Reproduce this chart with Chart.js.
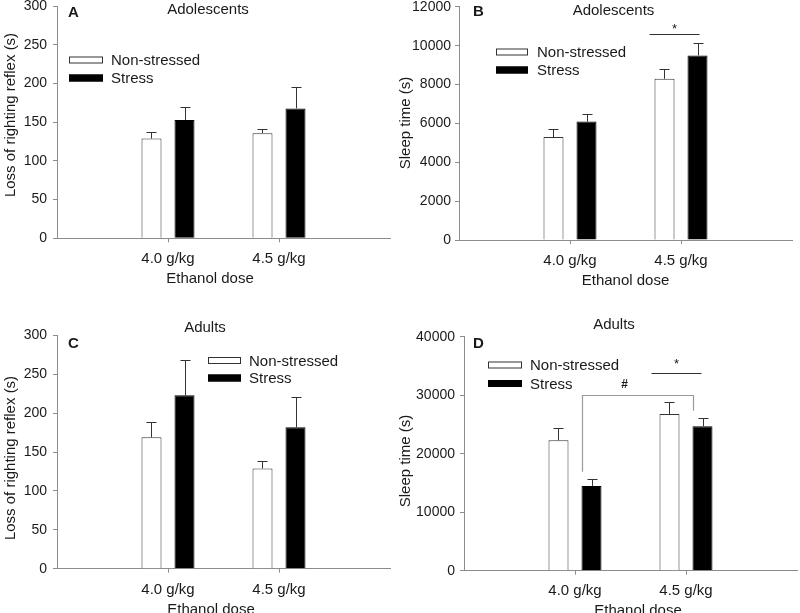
<!DOCTYPE html>
<html><head><meta charset="utf-8">
<script src="https://cdn.jsdelivr.net/npm/chart.js@4.4.1/dist/chart.umd.min.js"></script>
<style>
html,body{margin:0;padding:0;background:#fff;overflow:hidden}
#wrap{position:relative;width:800px;height:613px;overflow:hidden}
#wrap canvas{position:absolute}
</style></head>
<body><div id="wrap">
<canvas id="cA"></canvas><canvas id="cB"></canvas><canvas id="cC"></canvas><canvas id="cD"></canvas>
</div>
<script>
// ---------- data ----------
const doseLabels = ['4.0 g/kg', '4.5 g/kg'];
const groupNames = ['Non-stressed', 'Stress'];
const lorrTicks = [0, 50, 100, 150, 200, 250, 300];
const adolSleepTicks = [0, 2000, 4000, 6000, 8000, 10000, 12000];
const adultSleepTicks = [0, 10000, 20000, 30000, 40000];

const adolLORR_NS = [129, 136];
const adolLORR_NS_err = [9, 5];
const adolLORR_S = [153, 168];
const adolLORR_S_err = [17, 28];

const adolSleep_NS = [5300, 8300];
const adolSleep_NS_err = [440, 500];
const adolSleep_S = [6100, 9500];
const adolSleep_S_err = [380, 620];

const adultLORR_NS = [169, 129];
const adultLORR_NS_err = [20, 9];
const adultLORR_S = [223, 182];
const adultLORR_S_err = [45, 39];

const adultSleep_NS = [22300, 26800];
const adultSleep_NS_err = [2100, 2050];
const adultSleep_S = [14500, 24700];
const adultSleep_S_err = [1250, 1370];

// ---------- style ----------
const FONT = "'Liberation Sans', Arial, Helvetica, sans-serif";
const TEXT = '#1a1a1a';
const AXIS = '#8c8c8c';
const BAR_EDGE = '#333333';
Chart.defaults.font.family = FONT;
Chart.defaults.color = TEXT;

const decor = {
  id: 'decor',
  afterDatasetsDraw(chart, args, o) {
    const ctx = chart.ctx;
    const ys = chart.scales.y;
    const cx = o.cx, cy = o.cy;
    ctx.save();
    // error bars
    chart.data.datasets.forEach((ds, i) => {
      const meta = chart.getDatasetMeta(i);
      meta.data.forEach((el, j) => {
        const v = ds.data[j], e = ds.err[j];
        if (v == null || e == null) return;
        const yt = Math.round(ys.getPixelForValue(v + e)) + 0.5;
        const x = Math.round(el.x) + 0.5;
        ctx.strokeStyle = BAR_EDGE; ctx.lineWidth = 1;
        ctx.beginPath();
        ctx.moveTo(x, el.y); ctx.lineTo(x, yt);
        ctx.moveTo(x - 5, yt); ctx.lineTo(x + 5, yt);
        ctx.stroke();
      });
    });
    // legend
    const L = o.legend;
    chart.data.datasets.forEach((ds, i) => {
      const yc = (i === 0 ? L.y1 : L.y2) - cy;
      const x0 = L.x - cx;
      ctx.fillStyle = ds.backgroundColor;
      ctx.fillRect(x0, yc - 3.5, L.w, 7);
      ctx.strokeStyle = ds.borderColor; ctx.lineWidth = 1;
      ctx.strokeRect(x0 + 0.5, yc - 3.5 + 0.5, L.w - 1, 6);
      ctx.fillStyle = TEXT;
      ctx.font = '15px ' + FONT;
      ctx.textAlign = 'left'; ctx.textBaseline = 'middle';
      ctx.fillText(ds.label, L.tx - cx, yc + 1);
    });
    // panel letter
    ctx.fillStyle = TEXT;
    ctx.font = 'bold 15px ' + FONT;
    ctx.textAlign = 'left'; ctx.textBaseline = 'middle';
    ctx.fillText(o.letter.text, o.letter.x - cx, o.letter.y - cy);
    // panel title
    ctx.font = '15px ' + FONT;
    ctx.textAlign = 'center';
    ctx.fillText(o.title.text, o.title.x - cx, o.title.y - cy);
    // axis titles
    ctx.fillText(o.xTitle.text, o.xTitle.x - cx, o.xTitle.y - cy);
    ctx.save();
    ctx.translate(o.yTitle.x - cx, o.yTitle.y - cy);
    ctx.rotate(-Math.PI / 2);
    ctx.fillText(o.yTitle.text, 0, 0);
    ctx.restore();
    // significance line(s)
    const el = (d, j) => chart.getDatasetMeta(d).data[j];
    (o.sig || []).forEach(s => {
      const y = Math.round(ys.getPixelForValue(s.value)) + 0.5;
      const a = el(s.from[0], s.from[1]), b = el(s.to[0], s.to[1]);
      const x1 = a.x - a.width / 2 + s.from[2];
      const x2 = b.x + s.to[2];
      ctx.strokeStyle = '#333'; ctx.lineWidth = 1;
      ctx.beginPath(); ctx.moveTo(x1, y); ctx.lineTo(x2, y); ctx.stroke();
      ctx.fillStyle = TEXT; ctx.font = '13px ' + FONT;
      ctx.textAlign = 'center'; ctx.textBaseline = 'alphabetic';
      ctx.fillText(s.label, (x1 + x2) / 2, y + s.labelDy);
    });
    // bracket
    (o.bracket || []).forEach(k => {
      const a = el(k.left[0], k.left[1]), b = el(k.right[0], k.right[1]);
      const xl = Math.round(a.x - a.width / 2) + 0.5;
      const xr = Math.round(b.x - b.width / 2) + 0.5;
      const yt = Math.round(ys.getPixelForValue(k.top)) + 0.5;
      ctx.strokeStyle = '#9a9a9a'; ctx.lineWidth = 1.2;
      ctx.beginPath();
      ctx.moveTo(xl, ys.getPixelForValue(k.leftEnd));
      ctx.lineTo(xl, yt); ctx.lineTo(xr, yt);
      ctx.lineTo(xr, ys.getPixelForValue(k.rightEnd));
      ctx.stroke();
      ctx.fillStyle = TEXT; ctx.font = 'bold 12px ' + FONT;
      ctx.textAlign = 'center'; ctx.textBaseline = 'middle';
      ctx.fillText(k.label, xl + k.labelDx, yt + k.labelDy);
    });
    ctx.restore();
  }
};

function makePanel(p) {
  const cv = document.getElementById(p.id);
  cv.width = p.canvas.w; cv.height = p.canvas.h;
  cv.style.left = p.canvas.x + 'px'; cv.style.top = p.canvas.y + 'px';
  cv.style.width = p.canvas.w + 'px'; cv.style.height = p.canvas.h + 'px';
  const A = p.area, C = p.canvas;
  const padLeft = 1.6;
  const xH = C.h - (A.b - C.y);
  const ticks = p.yTicks;
  new Chart(cv, {
    type: 'bar',
    data: {
      labels: ['', ...doseLabels, ''],
      datasets: [
        { label: groupNames[0], data: [null, ...p.ns, null], err: [null, ...p.nsErr, null],
          backgroundColor: '#ffffff', borderColor: BAR_EDGE, borderWidth: 1 },
        { label: groupNames[1], data: [null, ...p.s, null], err: [null, ...p.sErr, null],
          backgroundColor: '#000000', borderColor: '#000000', borderWidth: 1 }
      ]
    },
    options: {
      responsive: false, animation: false, events: [],
      devicePixelRatio: 1,
      categoryPercentage: 0.5946, barPercentage: 0.606,
      layout: { padding: { left: padLeft, right: C.w - (A.r - C.x), top: A.t - C.y, bottom: 0 } },
      plugins: {
        legend: { display: false }, tooltip: { enabled: false },
        decor: Object.assign({ cx: C.x, cy: C.y }, p.decor)
      },
      scales: {
        x: {
          type: 'category', offset: false,
          border: { color: AXIS, width: 1 },
          grid: { display: true, offset: false, drawOnChartArea: false, drawTicks: true, tickLength: 4,
                  tickColor: c => (c.index === 1 || c.index === 2) ? AXIS : 'rgba(0,0,0,0)' },
          ticks: { font: { size: 15 }, color: TEXT, padding: p.xTickPad, maxRotation: 0, autoSkip: false },
          title: { display: false },
          afterFit: s => { s.height = xH; s.paddingLeft = 0; s.paddingRight = 0; }
        },
        y: {
          min: ticks[0], max: ticks[ticks.length - 1],
          border: { color: AXIS, width: 1 },
          grid: { drawOnChartArea: false, drawTicks: true, tickLength: 4, tickColor: AXIS },
          ticks: { stepSize: ticks[1] - ticks[0], font: { size: 14 }, color: TEXT, padding: p.yTickPad,
                   callback: v => String(v) },
          title: { display: false },
          afterFit: s => { s.width = A.l - C.x - padLeft; s.paddingTop = 0; s.paddingBottom = 0; }
        }
      }
    },
    plugins: [decor]
  });
}

makePanel({
  id: 'cA', canvas: { x: 0, y: 0, w: 400, h: 300 }, area: { l: 57, r: 390, t: 6.3, b: 238.3 },
  yTicks: lorrTicks, xTickPad: 7.7, yTickPad: 6,
  ns: adolLORR_NS, nsErr: adolLORR_NS_err, s: adolLORR_S, sErr: adolLORR_S_err,
  decor: {
    legend: { x: 69, w: 34, y1: 60, y2: 78, tx: 111 },
    letter: { text: 'A', x: 68, y: 13 },
    title: { text: 'Adolescents', x: 208, y: 10 },
    xTitle: { text: 'Ethanol dose', x: 210, y: 279 },
    yTitle: { text: 'Loss of righting reflex (s)', x: 11, y: 115 }
  }
});
makePanel({
  id: 'cB', canvas: { x: 395, y: 0, w: 405, h: 300 }, area: { l: 459, r: 792, t: 6.9, b: 240 },
  yTicks: adolSleepTicks, xTickPad: 7.7, yTickPad: 4,
  ns: adolSleep_NS, nsErr: adolSleep_NS_err, s: adolSleep_S, sErr: adolSleep_S_err,
  decor: {
    legend: { x: 496, w: 32, y1: 52, y2: 70, tx: 537 },
    letter: { text: 'B', x: 473, y: 12 },
    title: { text: 'Adolescents', x: 613.5, y: 11 },
    xTitle: { text: 'Ethanol dose', x: 625.5, y: 281 },
    yTitle: { text: 'Sleep time (s)', x: 406, y: 123 },
    sig: [{ value: 10600, from: [0, 2, -5], to: [1, 2, 2], label: '*', labelDy: -2 }]
  }
});
makePanel({
  id: 'cC', canvas: { x: 0, y: 300, w: 400, h: 313 }, area: { l: 57, r: 390, t: 335.5, b: 568.7 },
  yTicks: lorrTicks, xTickPad: 8, yTickPad: 6,
  ns: adultLORR_NS, nsErr: adultLORR_NS_err, s: adultLORR_S, sErr: adultLORR_S_err,
  decor: {
    legend: { x: 208, w: 33, y1: 360.5, y2: 378, tx: 249 },
    letter: { text: 'C', x: 68, y: 344 },
    title: { text: 'Adults', x: 205, y: 328 },
    xTitle: { text: 'Ethanol dose', x: 211, y: 610 },
    yTitle: { text: 'Loss of righting reflex (s)', x: 11, y: 458 }
  }
});
makePanel({
  id: 'cD', canvas: { x: 395, y: 300, w: 405, h: 313 }, area: { l: 464, r: 797, t: 336.7, b: 570.7 },
  yTicks: adultSleepTicks, xTickPad: 7.5, yTickPad: 5,
  ns: adultSleep_NS, nsErr: adultSleep_NS_err, s: adultSleep_S, sErr: adultSleep_S_err,
  decor: {
    legend: { x: 488, w: 34, y1: 365, y2: 383.5, tx: 530 },
    letter: { text: 'D', x: 473, y: 344 },
    title: { text: 'Adults', x: 614, y: 325 },
    xTitle: { text: 'Ethanol dose', x: 638, y: 611 },
    yTitle: { text: 'Sleep time (s)', x: 406, y: 461 },
    sig: [{ value: 33800, from: [0, 2, -8], to: [1, 2, -1], label: '*', labelDy: -6 }],
    bracket: [{ left: [1, 1], right: [1, 2], top: 30100, leftEnd: 16900, rightEnd: 27350,
                label: '#', labelDx: 42, labelDy: -11 }]
  }
});
</script>
</body></html>
